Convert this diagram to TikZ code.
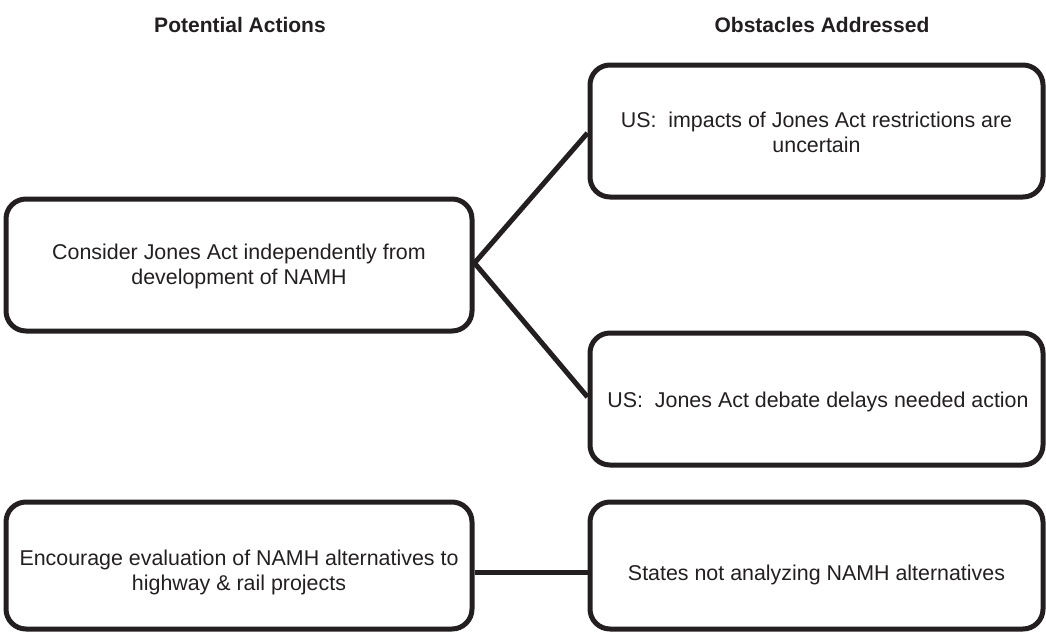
\documentclass[tikz,border=0pt]{standalone}
\usepackage{fontspec}
\setmainfont{Liberation Sans}
\definecolor{ink}{HTML}{231F20}
\begin{document}
\begin{tikzpicture}[x=1pt,y=-1pt,
  box/.style={draw=ink, line width=5pt, rounded corners=20pt, inner sep=0pt,
    minimum width=466pt, minimum height=132pt},
  txt/.style={text=ink, align=center, font=\fontsize{21.4}{25}\selectfont, inner sep=0pt},
  head/.style={text=ink, font=\fontsize{21}{25}\selectfont\bfseries, inner sep=0pt},
  link/.style={draw=ink, line width=5pt}]
\useasboundingbox (0,0) rectangle (1046,632);

% column headings
\node[head] (hA) at (240,25) {Potential Actions};
\node[head] (hO) at (822,25) {Obstacles Addressed};

% potential actions
\node[box] (a1) at (239,265) {};
\node[txt] (a1t) at (239,266) {Consider Jones Act independently from\\development of NAMH};
\node[box, minimum height=127pt] (a2) at (239,565.5) {};
\node[txt] (a2t) at (239,572) {Encourage evaluation of NAMH alternatives to\\highway \& rail projects};

% obstacles addressed
\node[box, minimum width=453pt] (o1) at (816.5,131) {};
\node[txt] (o1t) at (816.5,132) {US:\ \ impacts of Jones Act restrictions are\\uncertain};
\node[box, minimum width=453pt] (o2) at (816.5,399) {};
\node[txt] (o2t) at (818,402) {US:\ \ Jones Act debate delays needed action};
\node[box, minimum width=453pt, minimum height=127pt] (o3) at (816.5,565.5) {};
\node[txt] (o3t) at (816.5,575) {States not analyzing NAMH alternatives};

% connectors
\draw[link] ([yshift=2pt]a1.east) -- ([yshift=-2pt]o1.west);
\draw[link] ([yshift=2pt]a1.east) -- ([yshift=2pt]o2.west);
\draw[link] ([yshift=-6.5pt]a2.east) -- ([yshift=-6.5pt]o3.west);
\end{tikzpicture}
\end{document}
